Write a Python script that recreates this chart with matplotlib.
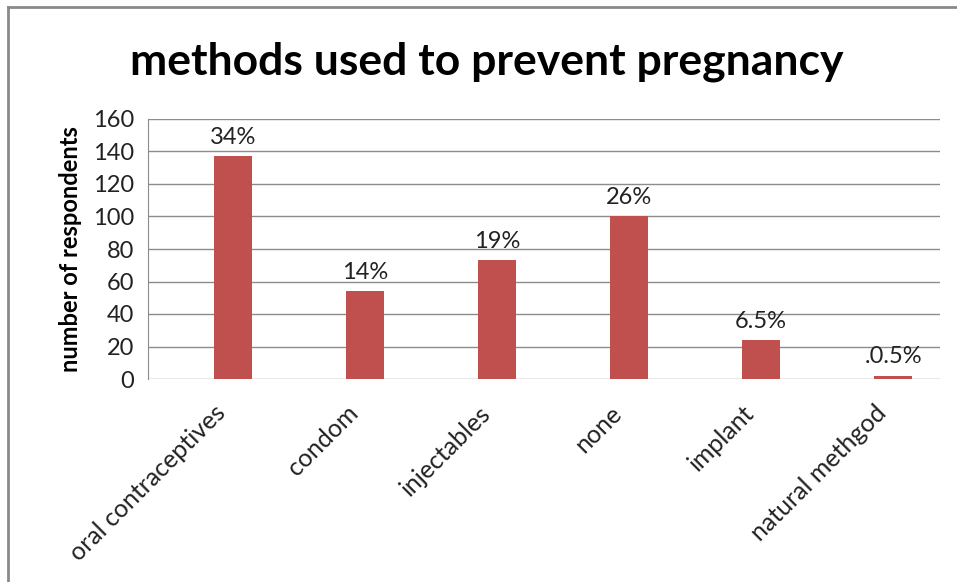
import matplotlib
matplotlib.use("Agg")
import matplotlib.pyplot as plt
from matplotlib.lines import Line2D

# data
methods = ["oral contraceptives", "condom", "injectables", "none", "implant", "natural methgod"]
respondents = [137, 54, 73, 100, 24, 2]
shares = ["34%", "14%", "19%", "26%", "6.5%", ".0.5%"]

plt.rcParams['font.family'] = ['Lato', 'DejaVu Sans']

fig = plt.figure(figsize=(9.57, 5.82), dpi=100)
ax = fig.add_axes([148 / 957, 1 - 379 / 582, (940 - 148) / 957, (379 - 119) / 582])

x = list(range(len(methods)))
bars = ax.bar(x, respondents, width=0.29, align='edge', color='#C0504D', zorder=3)

for b, s in zip(bars, shares):
    ax.annotate(s, (b.get_x() + b.get_width() / 2, b.get_height()),
                xytext=(0, 6), textcoords='offset points',
                ha='center', va='bottom', fontsize=17, color='#222222')

ax.set_xlim(-0.5, len(methods) - 0.5)
ax.set_ylim(0, 160)
ax.set_yticks(range(0, 161, 20))
ax.set_xticks(x)
ax.set_xticklabels(methods, rotation=45, ha='right', rotation_mode='anchor', fontsize=18)
ax.tick_params(axis='y', length=0, labelsize=17, colors='#222222', pad=10)
ax.tick_params(axis='x', length=0, colors='#222222', pad=16)
ax.yaxis.grid(True, color='#8c8c8c', linewidth=1, zorder=0)
for side in ['top', 'right', 'bottom']:
    ax.spines[side].set_visible(False)
ax.spines['left'].set_color('#8c8c8c')
ax.set_ylabel("number of respondents", fontsize=17, fontweight='bold', labelpad=8)

fig.text(487 / 957, 1 - 62 / 582, "methods used to prevent pregnancy",
         ha='center', va='center', fontsize=32, fontweight='bold')

# outer frame (only top and left edges visible)
fig.add_artist(Line2D([8 / 957, 8 / 957], [0, 1 - 7 / 582], transform=fig.transFigure,
                      color='#8a8a8a', linewidth=2))
fig.add_artist(Line2D([8 / 957, 1], [1 - 7 / 582, 1 - 7 / 582], transform=fig.transFigure,
                      color='#8a8a8a', linewidth=2))

fig.savefig("out.png", dpi=100)
